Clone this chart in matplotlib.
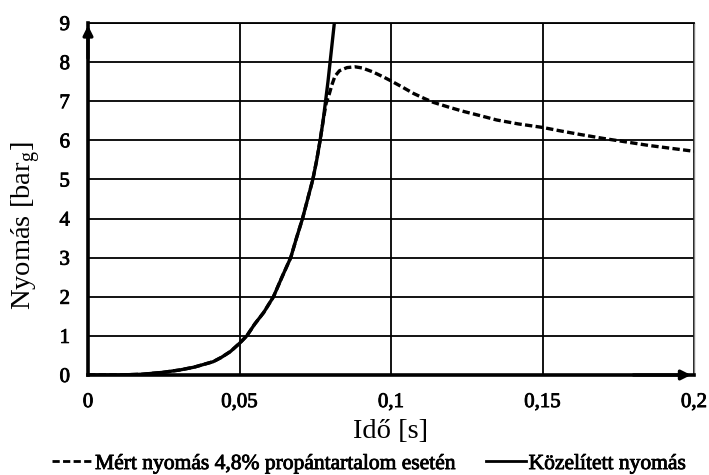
import matplotlib
matplotlib.use("Agg")
import matplotlib.pyplot as plt
from matplotlib.lines import Line2D
import matplotlib.patheffects as pe

# Data
x_kozelitett = [0, 0.01, 0.018, 0.025, 0.0304, 0.035, 0.0413, 0.044, 0.047, 0.05,
                0.0524, 0.055, 0.058, 0.0612, 0.064, 0.0669, 0.0688, 0.0708,
                0.0725, 0.0742, 0.0755, 0.0766, 0.0776, 0.0784, 0.0792, 0.0799,
                0.0806, 0.0813, 0.0822]
y_kozelitett = [0, 0, 0.02, 0.07, 0.13, 0.2, 0.34, 0.45, 0.6, 0.81,
                1.0, 1.3, 1.6, 2.0, 2.5, 3.0, 3.5, 4.0,
                4.5, 5.0, 5.5, 6.0, 6.5, 7.0, 7.5, 8.0,
                8.5, 9.0, 9.4]

x_mert = [0, 0.01, 0.018, 0.025, 0.0304, 0.035, 0.0413, 0.044, 0.047, 0.05,
          0.0524, 0.055, 0.058, 0.0612, 0.064, 0.0669, 0.0688, 0.0708,
          0.0725, 0.0742, 0.0755, 0.0766, 0.0776, 0.0786, 0.0795, 0.0805,
          0.0815, 0.083, 0.0855, 0.0881, 0.0905, 0.094, 0.0975, 0.1, 0.104,
          0.1074, 0.111, 0.114, 0.119, 0.1239, 0.13, 0.1349, 0.142, 0.15,
          0.156, 0.1624, 0.17, 0.1767, 0.185, 0.192, 0.2]
y_mert = [0, 0, 0.02, 0.07, 0.13, 0.2, 0.34, 0.45, 0.6, 0.81,
          1.0, 1.3, 1.6, 2.0, 2.5, 3.0, 3.5, 4.0,
          4.5, 5.0, 5.5, 6.0, 6.5, 6.95, 7.15, 7.42,
          7.64, 7.78, 7.86, 7.88, 7.85, 7.75, 7.62, 7.52, 7.35,
          7.2, 7.07, 6.97, 6.85, 6.74, 6.62, 6.52, 6.42, 6.33,
          6.24, 6.15, 6.05, 5.97, 5.87, 5.8, 5.72]

x_ticks = [0, 0.05, 0.1, 0.15, 0.2]
x_ticklabels = ["0", "0,05", "0,1", "0,15", "0,2"]
y_ticks = list(range(0, 10))

label_mert = "Mért nyomás 4,8% propántartalom esetén"
label_kozelitett = "Közelített nyomás"

plt.rcParams['font.family'] = ['Liberation Serif', 'DejaVu Serif']
thick = [pe.withStroke(linewidth=0.6, foreground='black')]

fig = plt.figure(figsize=(7.09, 4.75), dpi=100)
ax = fig.add_axes([88/709, 1 - 375/475, (694-88)/709, (375-23)/475])

ax.set_xlim(0, 0.2)
ax.set_ylim(0, 9)

ax.set_xticks(x_ticks)
ax.set_xticklabels(x_ticklabels)
ax.set_yticks(y_ticks)
ax.tick_params(axis='x', length=0, labelsize=15, pad=13)
ax.tick_params(axis='y', length=0, labelsize=15, pad=13)
for lab in ax.get_xticklabels() + ax.get_yticklabels():
    lab.set_path_effects(thick)

ax.grid(True, color='black', linewidth=1.3)
ax.set_axisbelow(True)

for s in ['left', 'bottom']:
    ax.spines[s].set_linewidth(2.6)
    ax.spines[s].set_color('black')
ax.spines['top'].set_linewidth(1.3)
ax.spines['right'].set_linewidth(1.0)
ax.spines['right'].set_color('#808080')

dash = (0, (2.2, 1.0))
ax.plot(x_mert, y_mert, color='black', linewidth=2.4, linestyle=dash, zorder=3)
ax.plot(x_kozelitett, y_kozelitett, color='black', linewidth=2.4, zorder=4)

# axis arrows
ax.annotate('', xy=(0, 0.993), xytext=(0, 0.9), xycoords='axes fraction',
            arrowprops=dict(arrowstyle='-|>', color='black', lw=2.4,
                            mutation_scale=14, shrinkA=0, shrinkB=0), zorder=5)
ax.annotate('', xy=(0.995, 0), xytext=(0.9, 0), xycoords='axes fraction',
            arrowprops=dict(arrowstyle='-|>', color='black', lw=2.4,
                            mutation_scale=14, shrinkA=0, shrinkB=0), zorder=5)

xl = ax.set_xlabel("Idő [s]", fontsize=20.5)
xl.set_va('center')
ax.xaxis.set_label_coords(0.5, -(431 - 375) / 352)
yl = ax.set_ylabel("Nyomás [bar$_\\mathregular{g}$]", fontsize=20.5)
yl.set_va('center')
ax.yaxis.set_label_coords(-(88 - 26) / 606, (375 - 226) / 352)

handles = [Line2D([], [], color='black', lw=2.0, linestyle=(0, (2.6, 1.2))),
           Line2D([], [], color='black', lw=2.0)]
leg = fig.legend(handles, [label_mert, label_kozelitett], loc='center',
                 bbox_to_anchor=(369/709, 1 - 464/475), ncol=2, frameon=False,
                 prop={'size': 15.5}, handlelength=1.9,
                 handletextpad=0.1, columnspacing=1.4, borderpad=0,
                 borderaxespad=0)
for t in leg.get_texts():
    t.set_path_effects(thick)

fig.savefig("out.png", dpi=100)
